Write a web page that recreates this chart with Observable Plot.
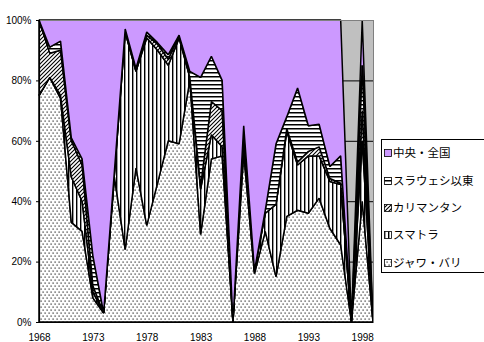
<!DOCTYPE html>
<html>
<head>
<meta charset="utf-8">
<script src="https://cdn.jsdelivr.net/npm/d3@7"></script>
<script src="https://cdn.jsdelivr.net/npm/@observablehq/plot@0.6"></script>
<style>
  html, body { margin: 0; padding: 0; background: #fff; }
  #chart { position: relative; width: 484px; height: 342px; overflow: hidden; }
</style>
</head>
<body>
<div id="chart"></div>
<script>
// Regional shares (%) of the annual total, 1968–1999
const years = [1968,1969,1970,1971,1972,1973,1974,1975,1976,1977,1978,1979,1980,1981,1982,1983,
               1984,1985,1986,1987,1988,1989,1990,1991,1992,1993,1994,1995,1996,1997,1998,1999];
const javaBali   = [75,81,74,33,30, 8, 3,48,24,51,32,46,60,59,80,29,54,55,  0,56,16,30,15,35,37,  36,  41,  31,25.5,0,40,0];
const sumatra    = [ 0, 0, 1,15,10, 2, 0, 1,72,32,62,44,25,35, 1,15, 8, 3,  0, 4, 1, 6,24,28,15,  19,  14,15.5,  20,0,20,0];
const kalimantan = [25, 8,15,12,12, 2, 0, 0, 0, 0, 1, 2, 2, 1, 0, 1,11,12,  0, 2, 0, 0, 0, 1, 1, 1.5,   3,   1, 0.5,0,10,0];
const sulawesi   = [ 0, 2, 3, 1, 2,10, 0, 1, 1, 1, 1,0.5,1.5,0, 2,36,15,10,  0, 3, 0, 1,20, 4,24.5,8.5,7.5,  4,   9,0,15,0];
const central    = [ 0, 9, 7,39,46,78,97,50, 3,16, 4,7.5,11.5,5,17,19,12,20,100,35,83,63,41,32,22.5,35,34.5,48.5,45,0,15,0];

const seriesNames  = ["ジャワ・バリ", "スマトラ", "カリマンタン", "スラウェシ以東", "中央・全国"];
const seriesValues = [javaBali, sumatra, kalimantan, sulawesi, central];
const seriesFills  = ["url(#dots)", "url(#vstripes)", "url(#hatch)", "url(#hstripes)", "#CC99FF"];

const yTicks = [0, 20, 40, 60, 80, 100];
const gridLevels = [20, 40, 60, 80];
const xLabelYears = [1968, 1973, 1978, 1983, 1988, 1993, 1998];

// long table: one row per region and year, bottom series first
const rows = seriesNames.flatMap((region, i) =>
  years.map((year, j) => ({year, region, share: seriesValues[i][j]})));

const chart = Plot.plot({
  width: 484,
  height: 342,
  marginLeft: 39,
  marginRight: 111,
  marginTop: 20,
  marginBottom: 20,
  style: {fontFamily: "'Liberation Sans', Arial, sans-serif", fontSize: "10px", background: "transparent", color: "#000", overflow: "visible"},
  x: {domain: [1968, 1999], ticks: xLabelYears, tickFormat: d => String(d), tickSize: 0, tickPadding: 11, label: null},
  y: {domain: [0, 100], ticks: yTicks, tickFormat: d => d + "%", tickSize: 3, tickPadding: 5, label: null},
  color: {type: "ordinal", domain: seriesNames, range: seriesFills},
  marks: [
    Plot.frame({fill: "#C0C0C0"}),
    Plot.ruleY(gridLevels, {stroke: "#000", strokeWidth: 1}),
    Plot.areaY(rows, {x: "year", y: "share", fill: "region", z: "region", stroke: "#000", strokeWidth: 1.5, strokeLinejoin: "miter"}),
    Plot.frame({stroke: "#808080"}),
    Plot.ruleX([1968], {stroke: "#000", strokeWidth: 1.2}),
    Plot.ruleY([0], {stroke: "#000", strokeWidth: 1.2})
  ]
});

// fill patterns for the stacked regions
const svg = d3.select(chart);
const defs = svg.insert("defs", ":first-child");

const dots = defs.append("pattern").attr("id", "dots").attr("patternUnits", "userSpaceOnUse")
  .attr("width", 4).attr("height", 6);
dots.append("rect").attr("width", 4).attr("height", 6).attr("fill", "#fff");
dots.append("rect").attr("x", 0.5).attr("y", 0.5).attr("width", 1.2).attr("height", 1.2).attr("fill", "#222");
dots.append("rect").attr("x", 2.5).attr("y", 3.5).attr("width", 1.2).attr("height", 1.2).attr("fill", "#222");

const vstripes = defs.append("pattern").attr("id", "vstripes").attr("patternUnits", "userSpaceOnUse")
  .attr("width", 4).attr("height", 10);
vstripes.append("rect").attr("width", 4).attr("height", 10).attr("fill", "#fff");
vstripes.append("rect").attr("x", 0).attr("width", 1).attr("height", 10).attr("fill", "#000");
vstripes.append("rect").attr("x", 1).attr("width", 1).attr("height", 10).attr("fill", "#999");

const hatch = defs.append("pattern").attr("id", "hatch").attr("patternUnits", "userSpaceOnUse")
  .attr("width", 4).attr("height", 4);
hatch.append("rect").attr("width", 4).attr("height", 4).attr("fill", "#fff");
hatch.append("path").attr("d", "M-1,1L1,-1M0,4L4,0M3,5L5,3").attr("stroke", "#000").attr("stroke-width", 1.1);

const hstripes = defs.append("pattern").attr("id", "hstripes").attr("patternUnits", "userSpaceOnUse")
  .attr("width", 10).attr("height", 4);
hstripes.append("rect").attr("width", 10).attr("height", 4).attr("fill", "#fff");
hstripes.append("rect").attr("y", 0).attr("width", 10).attr("height", 1.5).attr("fill", "#000");

// legend box on the right, top entry is the top of the stack
const legend = svg.append("g").attr("class", "legend").attr("text-anchor", "start");
legend.append("rect").attr("x", 381.5).attr("y", 139.5).attr("width", 110).attr("height", 133)
  .attr("fill", "#fff").attr("stroke", "#000");
const legendRows = [153, 181, 208, 235, 263];
seriesNames.slice().reverse().forEach((name, i) => {
  const fill = seriesFills[seriesNames.length - 1 - i];
  const y = legendRows[i];
  legend.append("rect").attr("x", 384.5).attr("y", y - 3.5).attr("width", 7).attr("height", 7)
    .attr("fill", fill).attr("stroke", "#000").attr("stroke-width", 0.8);
  legend.append("text").attr("x", 393).attr("y", y).attr("dy", "0.35em")
    .attr("text-anchor", "start")
    .attr("font-family", "'Noto Sans CJK JP', sans-serif").attr("font-size", 11.5).attr("fill", "#000")
    .text(name);
});

document.getElementById("chart").appendChild(chart);
</script>
</body>
</html>
